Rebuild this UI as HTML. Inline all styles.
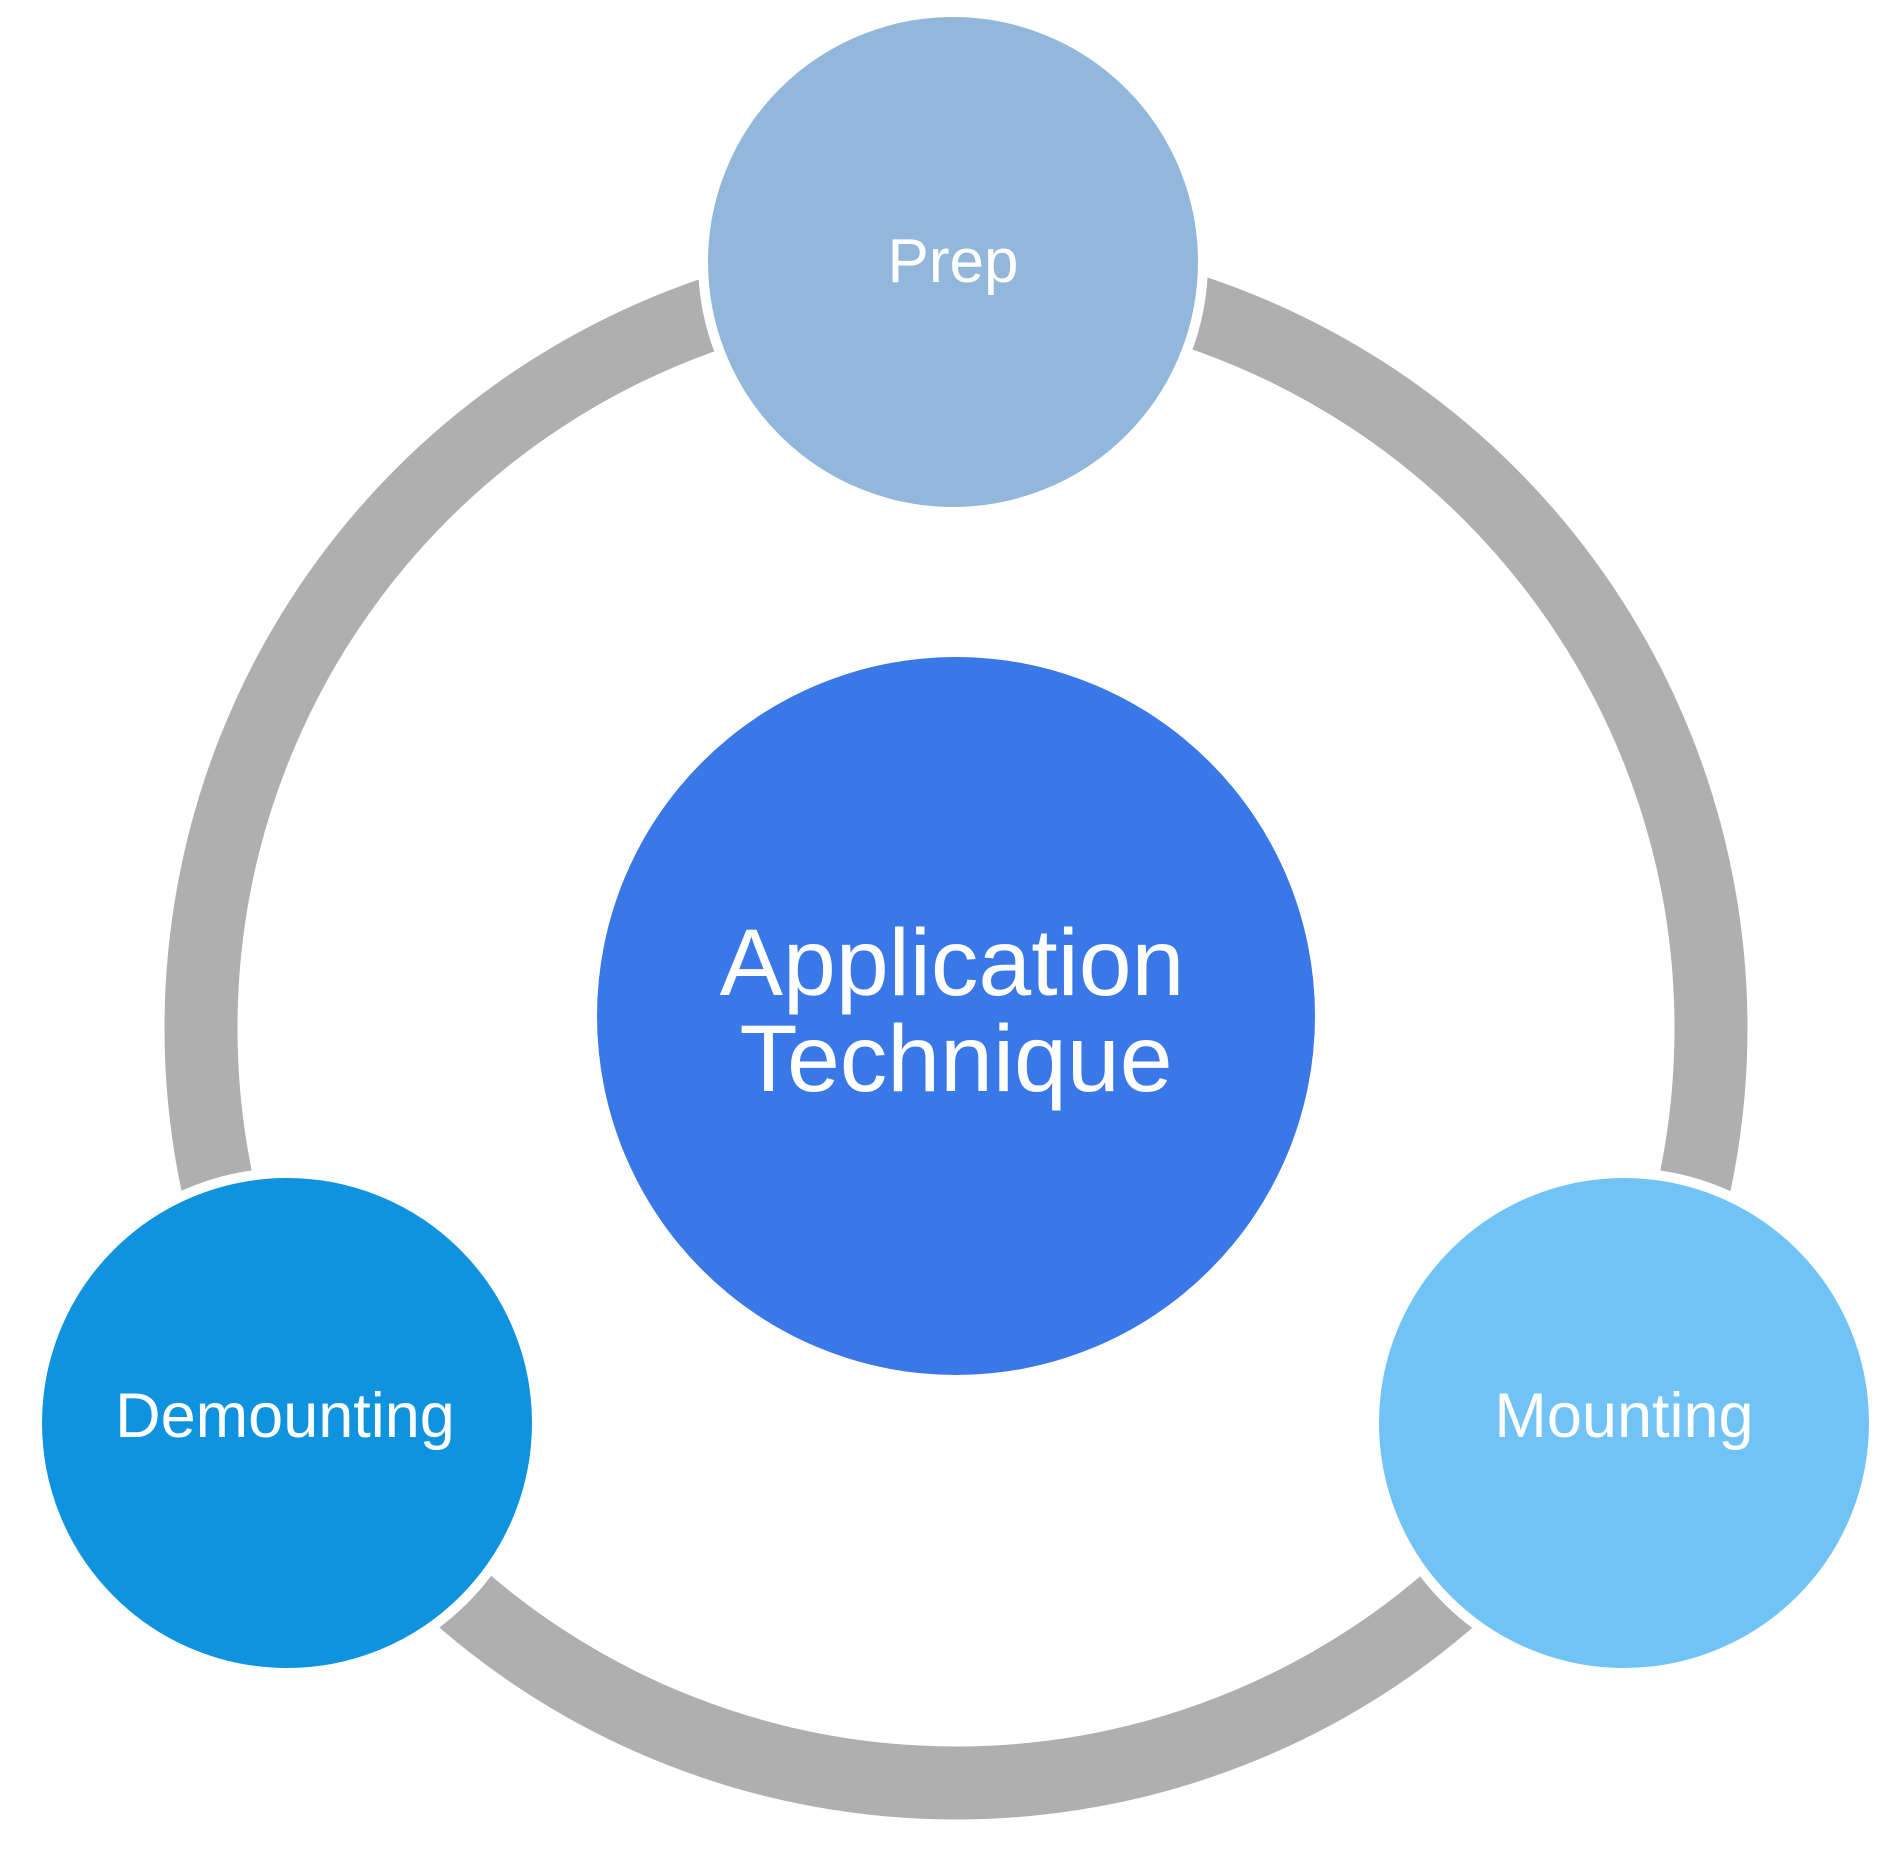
<!DOCTYPE html>
<html><head><meta charset="utf-8"><style>
html,body{margin:0;padding:0;background:#fff;}
body{position:relative;width:1888px;height:1858px;overflow:hidden;}
svg{display:block;position:absolute;left:0;top:0;}
.t{position:absolute;font-family:"Liberation Sans",Arial,sans-serif;color:#fff;text-align:center;white-space:nowrap;width:800px;line-height:1;letter-spacing:0;}
</style></head><body>
<svg width="1888" height="1858" viewBox="0 0 1888 1858" xmlns="http://www.w3.org/2000/svg">
<circle cx="956" cy="1028" r="755" fill="none" stroke="#afafaf" stroke-width="73"/>
<circle cx="956" cy="1016" r="359" fill="#3b78e7"/>
<circle cx="953" cy="262" r="250" fill="#93b7db" stroke="#fff" stroke-width="10"/>
<circle cx="287" cy="1423" r="250" fill="#0f93df" stroke="#fff" stroke-width="10"/>
<circle cx="1624" cy="1423" r="250" fill="#71c3f5" stroke="#fff" stroke-width="10"/>
</svg>
<div class="t" style="left:553px;top:231px;font-size:62px;">Prep</div>
<div class="t" style="left:-115px;top:1385px;font-size:63px;">Demounting</div>
<div class="t" style="left:1224px;top:1385px;font-size:63px;">Mounting</div>
<div class="t" style="left:552px;top:916px;font-size:95px;">Application</div>
<div class="t" style="left:556px;top:1012px;font-size:95px;">Technique</div>
</body></html>
